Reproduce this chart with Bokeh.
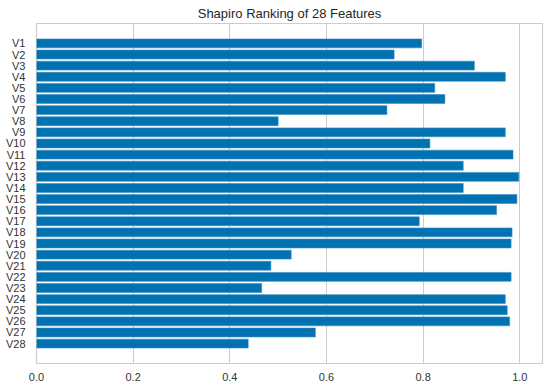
from bokeh.plotting import figure
from bokeh.models import Range1d, FixedTicker, ColumnDataSource
from bokeh.embed import file_html
from bokeh.resources import INLINE

features = ["V%d" % i for i in range(1, 29)]
scores = [0.797, 0.740, 0.906, 0.970, 0.824, 0.845, 0.725, 0.500, 0.970, 0.814,
          0.986, 0.883, 0.998, 0.883, 0.994, 0.952, 0.792, 0.984, 0.982, 0.527,
          0.485, 0.982, 0.466, 0.970, 0.974, 0.979, 0.577, 0.438]
x_ticks = [0.0, 0.2, 0.4, 0.6, 0.8, 1.0]
x_tick_labels = ["0.0", "0.2", "0.4", "0.6", "0.8", "1.0"]

pos = list(range(len(features)))
src = ColumnDataSource(dict(y=pos, right=scores, name=features))

n = len(features)
p = figure(width=550, height=385, output_backend="svg", toolbar_location=None,
           title="Shapiro Ranking of 28 Features",
           x_range=Range1d(0, 1.047), y_range=Range1d(n - 1 + 1.79, -1.79),
           min_border_left=36, min_border_right=8, min_border_top=23, min_border_bottom=22)

p.hbar(y="y", left=0, right="right", height=0.8, source=src,
       fill_color="#0072B2", line_color="#3a8cc0", line_width=0.6)

p.title.align = "center"
p.title.text_font = "Liberation Sans"
p.title.text_font_size = "13px"
p.title.text_font_style = "normal"
p.title.text_color = "#262626"
p.title.offset = 0
p.title.standoff = 6

p.background_fill_color = "white"
p.border_fill_color = "white"
p.outline_line_color = "#cccccc"
p.outline_line_width = 1.2

p.xgrid.grid_line_color = "#cccccc"
p.xgrid.grid_line_width = 1
p.ygrid.grid_line_color = None

p.xaxis.ticker = FixedTicker(ticks=x_ticks)
p.xaxis.major_label_overrides = {t: l for t, l in zip(x_ticks, x_tick_labels)}
p.yaxis.ticker = FixedTicker(ticks=pos)
p.yaxis.major_label_overrides = {i: f for i, f in zip(pos, features)}

for ax in (p.xaxis[0], p.yaxis[0]):
    ax.axis_line_color = None
    ax.major_tick_line_color = None
    ax.minor_tick_line_color = None
    ax.major_tick_out = 0
    ax.major_tick_in = 0
    ax.major_label_text_font = "Liberation Sans"
    ax.major_label_text_font_size = "11px"
    ax.major_label_text_color = "#333333"

p.xaxis.major_label_standoff = 9
p.yaxis.major_label_standoff = 11

open("out.html", "w").write(file_html(p, INLINE))
